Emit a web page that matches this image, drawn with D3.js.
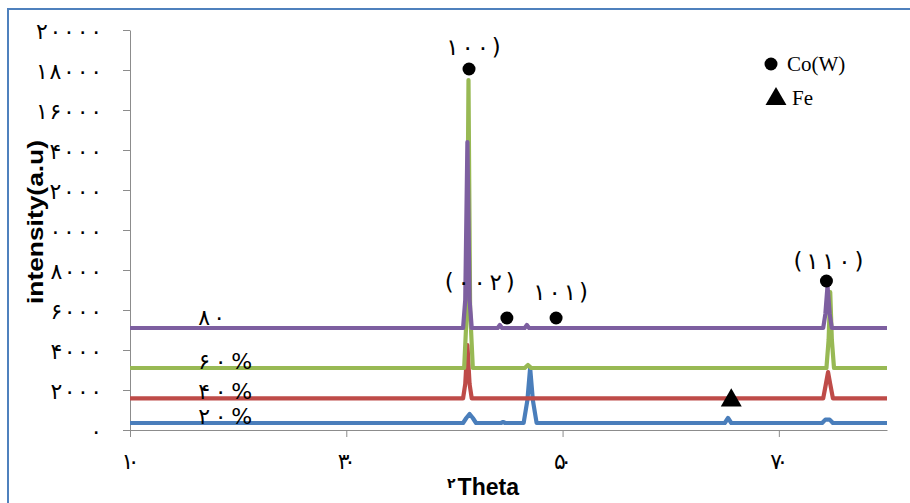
<!DOCTYPE html>
<html><head><meta charset="utf-8">
<script src="https://cdn.jsdelivr.net/npm/d3@7"></script>
<style>body{margin:0;background:#fff}svg{display:block}</style>
</head><body>
<svg id="c" width="910" height="503"></svg>
<script>
// ---- data ----
const xTicks = [10, 30, 50, 70];
const xTickLabels = ["۱۰", "۳۰", "۵۰", "۷۰"];
const yTicks = [0, 2000, 4000, 6000, 8000, 10000, 12000, 14000, 16000, 18000, 20000];
const yTickLabels = ["۰", "۲۰۰۰", "۴۰۰۰", "۶۰۰۰", "۸۰۰۰", "۱۰۰۰۰", "۱۲۰۰۰", "۱۴۰۰۰", "۱۶۰۰۰", "۱۸۰۰۰", "۲۰۰۰۰"];
const seriesNames = ["۲۰%", "۴۰%", "۶۰%", "۸۰"];
const seriesColors = ["#4a7ebb", "#be4b48", "#98b954", "#7d5fa0"];
// [2theta, intensity]
const s20 = [[10,350],[40.8,350],[41.1,600],[41.4,800],[41.7,600],[42.0,350],[44.3,350],[44.5,400],[44.7,350],[46.4,350],[46.75,1500],[47.0,3100],[47.25,1500],[47.6,350],[65.0,350],[65.3,600],[65.6,350],[74.0,350],[74.3,520],[74.7,520],[75.0,350],[80,350]];
const s40 = [[10,1580],[40.8,1580],[41.0,2300],[41.2,4250],[41.4,2300],[41.6,1580],[74.1,1580],[74.35,2300],[74.55,2900],[74.75,2300],[75.0,1580],[80,1580]];
const s60 = [[10,3100],[40.9,3100],[41.15,6000],[41.3,17500],[41.45,6000],[41.7,3100],[46.5,3100],[46.8,3250],[47.1,3100],[74.4,3100],[74.6,4500],[74.75,6900],[74.9,4500],[75.1,3100],[80,3100]];
const s80 = [[10,5100],[40.8,5100],[41.0,6500],[41.2,14400],[41.4,6500],[41.6,5100],[44.0,5100],[44.2,5250],[44.4,5100],[46.5,5100],[46.7,5250],[46.9,5100],[74.1,5100],[74.3,5800],[74.5,7200],[74.7,5800],[74.9,5100],[80,5100]];
const allSeries = [s20, s40, s60, s80];
const seriesLabelX = [16.3, 16.3, 16.3, 16.3];
const circles = [[41.35,18050],[44.85,5600],[49.4,5600],[74.4,7450]];
const triangles = [[65.6,1480]];
const peakLabels = ["۱۰۰)", "(۰۰۲)", "۱۰۱)", "(۱۱۰)"];
const peakLabelPos = [[39.25,18750],[39.1,7000],[47.3,6500],[71.35,8050]];

// ---- chart ----
const svg = d3.select("#c");
const x = d3.scaleLinear().domain([10, 80]).range([130, 887]);
const y = d3.scaleLinear().domain([0, 20000]).range([430, 30]);

// spread glyphs of a label (letter-spacing is ignored for Arabic-script digits)
function spread(sel, step, last) {
  sel.each(function() {
    const t = this.textContent, n = t.length;
    const l = t.endsWith("%") ? 18 : last;
    if (n > 1) d3.select(this).attr("textLength", (n - 1) * step + l).attr("lengthAdjust", "spacing");
  });
}

// outer frame
svg.append("rect").attr("x", 8).attr("y", 9).attr("width", 930).attr("height", 520)
  .attr("fill", "none").attr("stroke", "#4f81bd").attr("stroke-width", 2);

// axes
const xAxis = svg.append("g").attr("transform", "translate(0,430)")
  .call(d3.axisBottom(x).tickValues(xTicks).tickSize(7).tickSizeOuter(0).tickFormat((d,i)=>xTickLabels[i]));
const yAxis = svg.append("g").attr("transform", "translate(130,0)")
  .call(d3.axisLeft(y).tickValues(yTicks).tickSize(7).tickSizeOuter(0).tickFormat((d,i)=>yTickLabels[i]));
[xAxis, yAxis].forEach(g => {
  g.select(".domain").attr("stroke", "#8c8c8c").attr("stroke-width", 1);
  g.selectAll(".tick line").attr("stroke", "#8c8c8c").attr("stroke-width", 1);
  g.selectAll("text").attr("fill", "#000").attr("font-family", "DejaVu Sans").attr("font-size", 22);
});
xAxis.selectAll("text").attr("dy", "1.3em").call(spread, 10, 8);
yAxis.selectAll("text").attr("x", -28).attr("dy", "0.38em").call(spread, 14.5, 8);

// series
const line = d3.line().x(d => x(d[0])).y(d => y(d[1]));
allSeries.forEach((s, i) => {
  svg.append("path").datum(s).attr("d", line).attr("fill", "none")
    .attr("stroke", seriesColors[i]).attr("stroke-width", 4.2)
    .attr("stroke-linejoin", "round");
});

// series labels
allSeries.forEach((s, i) => {
  svg.append("text").attr("x", x(seriesLabelX[i])).attr("y", y(s[0][1]) + (i === 3 ? -3 : 1))
    .attr("font-family", "DejaVu Sans").attr("font-size", 22)
    .attr("fill", "#000").text(seriesNames[i]).call(spread, 18, 9);
});

// markers
svg.selectAll("circle.m").data(circles).enter().append("circle")
  .attr("cx", d => x(d[0])).attr("cy", d => y(d[1])).attr("r", 6.5).attr("fill", "#000");
const tri = d3.symbol().type(d3.symbolTriangle).size(190);
svg.selectAll("path.t").data(triangles).enter().append("path")
  .attr("d", tri).attr("transform", d => `translate(${x(d[0])},${y(d[1])})`).attr("fill", "#000");

// peak labels
peakLabels.forEach((t, i) => {
  svg.append("text").attr("x", x(peakLabelPos[i][0])).attr("y", y(peakLabelPos[i][1]))
    .attr("font-family", "DejaVu Sans").attr("font-size", 23)
    .attr("fill", "#000").text(t).call(spread, 15.5, 8);
});

// legend
svg.append("circle").attr("cx", 771).attr("cy", 64).attr("r", 6.5).attr("fill", "#000");
svg.append("text").attr("x", 787).attr("y", 71).attr("font-family", "Liberation Serif")
  .attr("font-size", 21).attr("fill", "#000").text("Co(W)");
svg.append("path").attr("d", tri).attr("transform", "translate(776,99)").attr("fill", "#000");
svg.append("text").attr("x", 792).attr("y", 105).attr("font-family", "Liberation Serif")
  .attr("font-size", 21).attr("fill", "#000").text("Fe");

// axis titles
const yt = svg.append("g").attr("transform", "translate(43,222) rotate(-90)");
const ytText = yt.append("text").attr("text-anchor", "middle").attr("font-family", "Liberation Sans")
  .attr("font-weight", "bold").attr("font-size", 22).attr("textLength", 164).attr("lengthAdjust", "spacingAndGlyphs")
  .attr("fill", "#000").text("intensity(a.u)");
const bb = ytText.node().getBBox();
yt.insert("rect", "text").attr("x", bb.x).attr("y", bb.y + 4).attr("width", bb.width).attr("height", bb.height - 7).attr("fill", "#fff");

const xt = svg.append("text").attr("x", 483).attr("y", 495).attr("text-anchor", "middle")
  .attr("font-family", "Liberation Sans").attr("font-weight", "bold").attr("font-size", 23).attr("fill", "#000");
xt.append("tspan").attr("font-size", 14).attr("dy", -7).attr("font-family", "DejaVu Sans").text("۲");
xt.append("tspan").attr("dy", 7).attr("dx", 2).text("Theta");
</script>
</body></html>
